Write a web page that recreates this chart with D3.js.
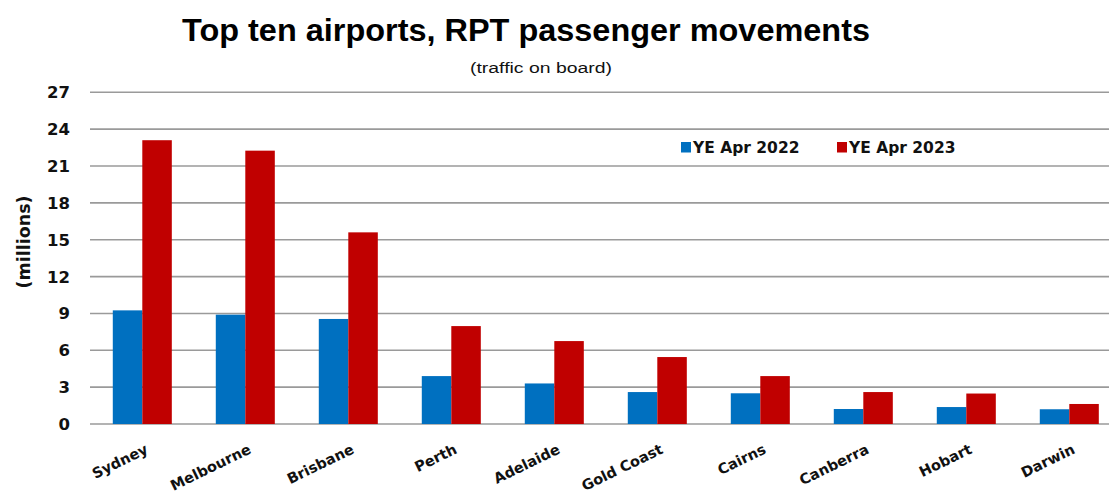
<!DOCTYPE html>
<html>
<head>
<meta charset="utf-8">
<script src="https://cdn.jsdelivr.net/npm/d3@7"></script>
<style>
  body { margin: 0; background: #fff; }
  text { font-family: "Liberation Sans", Arial, sans-serif; }
  .lbl { font-family: "DejaVu Sans", Verdana, sans-serif; font-weight: bold; }
</style>
</head>
<body>
<div id="chart"></div>
<script>
// Data (millions)
const airports = ["Sydney", "Melbourne", "Brisbane", "Perth", "Adelaide",
                  "Gold Coast", "Cairns", "Canberra", "Hobart", "Darwin"];
const series = ["YE Apr 2022", "YE Apr 2023"];
const ye2022 = [9.25, 8.9, 8.55, 3.9, 3.3, 2.6, 2.5, 1.22, 1.38, 1.2];
const ye2023 = [23.1, 22.25, 15.6, 7.97, 6.75, 5.45, 3.9, 2.6, 2.48, 1.63];
const yTicks = [0, 3, 6, 9, 12, 15, 18, 21, 24, 27];

const width = 1109, height = 497;
const colors = ["#0070C0", "#C00000"];

const svg = d3.select("#chart").append("svg")
  .attr("width", width)
  .attr("height", height);

const x = d3.scaleBand()
  .domain(airports)
  .range([90.8, 1120.8])
  .paddingInner(0.427)
  .paddingOuter(0.2135);

const xSub = d3.scaleBand()
  .domain(series)
  .range([0, x.bandwidth()]);

const y = d3.scaleLinear()
  .domain([0, 27])
  .range([424, 92.3]);

// gridlines
svg.append("g")
  .selectAll("line")
  .data(yTicks)
  .enter().append("line")
  .attr("x1", 90)
  .attr("x2", width)
  .attr("y1", d => y(d))
  .attr("y2", d => y(d))
  .attr("stroke", "#9a9a9a")
  .attr("stroke-width", 1.6);

// y tick labels
svg.append("g")
  .selectAll("text")
  .data(yTicks)
  .enter().append("text")
  .attr("class", "lbl")
  .attr("x", 70)
  .attr("y", d => y(d))
  .attr("dy", "0.36em")
  .attr("text-anchor", "end")
  .style("font-size", "16.5px")
  .attr("fill", "#111")
  .text(d => d);

// bars
const rows = airports.map((a, i) => ({ airport: a, values: [ye2022[i], ye2023[i]] }));

const groups = svg.append("g")
  .selectAll("g")
  .data(rows)
  .enter().append("g")
  .attr("transform", d => `translate(${x(d.airport)},0)`);

groups.selectAll("rect")
  .data(d => d.values.map((v, j) => ({ key: series[j], value: v, j })))
  .enter().append("rect")
  .attr("x", d => xSub(d.key))
  .attr("width", xSub.bandwidth())
  .attr("y", d => y(d.value))
  .attr("height", d => y(0) - y(d.value))
  .attr("fill", d => colors[d.j]);

// x labels
svg.append("g")
  .selectAll("text")
  .data(airports)
  .enter().append("text")
  .attr("class", "lbl")
  .attr("transform", d => `translate(${x(d) + x.bandwidth() / 2 + 2},${443}) rotate(-26)`)
  .attr("text-anchor", "end")
  .attr("dy", "0.74em")
  .style("font-size", "14.5px")
  .attr("fill", "#111")
  .text(d => d);

// title
svg.append("text")
  .attr("x", 526)
  .attr("y", 41)
  .attr("text-anchor", "middle")
  .attr("textLength", 688)
  .attr("lengthAdjust", "spacingAndGlyphs")
  .style("font-size", "32px")
  .style("font-weight", "bold")
  .attr("fill", "#000")
  .text("Top ten airports, RPT passenger movements");

svg.append("text")
  .attr("x", 541)
  .attr("y", 73)
  .attr("text-anchor", "middle")
  .attr("textLength", 142)
  .attr("lengthAdjust", "spacingAndGlyphs")
  .style("font-size", "15.5px")
  .attr("fill", "#111")
  .text("(traffic on board)");

// y axis title
svg.append("text")
  .attr("class", "lbl")
  .attr("transform", "translate(30,242) rotate(-90)")
  .attr("text-anchor", "middle")
  .style("font-size", "17.5px")
  .attr("fill", "#111")
  .text("(millions)");

// legend
const legendX = [681, 837];
const legend = svg.append("g")
  .selectAll("g")
  .data(series)
  .enter().append("g")
  .attr("transform", (d, i) => `translate(${legendX[i]},142)`);

legend.append("rect")
  .attr("width", 10)
  .attr("height", 10.5)
  .attr("fill", (d, i) => colors[i]);

legend.append("text")
  .attr("class", "lbl")
  .attr("x", 12)
  .attr("y", 5.5)
  .attr("dy", "0.36em")
  .style("font-size", "15.5px")
  .attr("fill", "#111")
  .text(d => d);
</script>
</body>
</html>
